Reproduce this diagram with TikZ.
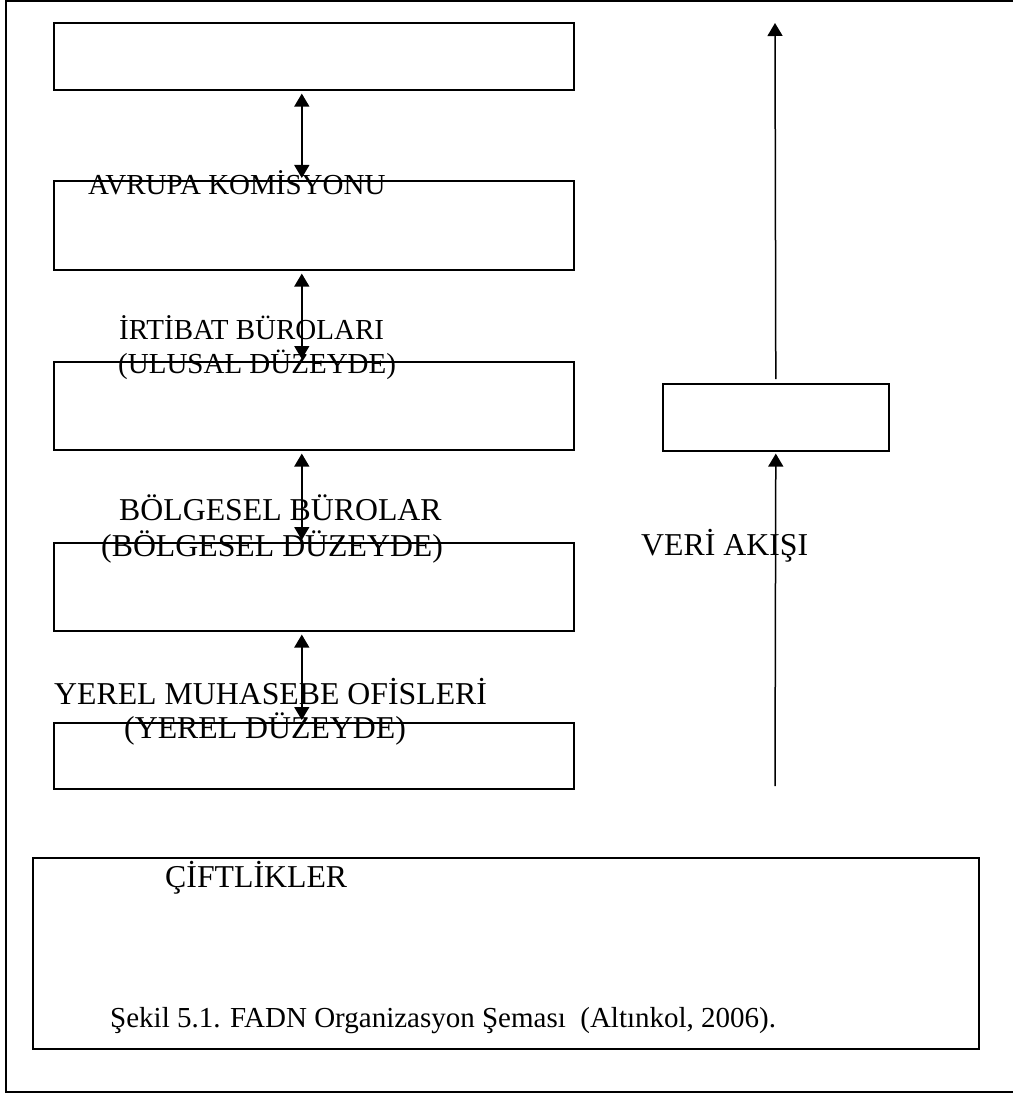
\documentclass[tikz,border=0pt]{standalone}
\usepackage{fontspec}
\setmainfont{Liberation Serif}
\usetikzlibrary{arrows.meta}
\begin{document}
\begin{tikzpicture}[x=1pt,y=-1pt,
  box/.style={draw,line width=1.6pt,inner sep=0pt,anchor=north west},
  lbl/.style={anchor=base west,inner sep=0pt,font=\fontsize{29}{34}\selectfont},
  lblb/.style={anchor=base west,inner sep=0pt,font=\fontsize{31.8}{36}\selectfont},
  flow/.style={line width=1.5pt,-{Triangle[width=15pt,length=13pt]}},
  both/.style={line width=1.5pt,{Triangle[width=15pt,length=13pt]}-{Triangle[width=15pt,length=13pt]}}]
\useasboundingbox (0,0) rectangle (1012,1094);
% outer frame (right side lies beyond the page)
\draw[line width=1.6pt] (1014,1) -- (6,1) -- (6,1092) -- (1014,1092);
% left column boxes
\node[box,minimum width=520pt,minimum height=67pt] (b1) at (53,22) {};
\node[box,minimum width=520pt,minimum height=89pt] (b2) at (53,180) {};
\node[box,minimum width=520pt,minimum height=88pt] (b3) at (53,361) {};
\node[box,minimum width=520pt,minimum height=88pt] (b4) at (53,542) {};
\node[box,minimum width=520pt,minimum height=66pt] (b5) at (53,722) {};
% right box and bottom box
\node[box,minimum width=226pt,minimum height=67pt] (rb) at (662,383) {};
\node[box,minimum width=946pt,minimum height=191pt] (fb) at (32,857) {};
% double arrows
\draw[both] ([xshift=-12pt,yshift=-3pt]b1.south) -- ([xshift=-12pt,yshift=2pt]b2.north);
\draw[both] ([xshift=-12pt,yshift=-3pt]b2.south) -- ([xshift=-12pt,yshift=2pt]b3.north);
\draw[both] ([xshift=-12pt,yshift=-3pt]b3.south) -- ([xshift=-12pt,yshift=2pt]b4.north);
\draw[both] ([xshift=-12pt,yshift=-3pt]b4.south) -- ([xshift=-12pt,yshift=2pt]b5.north);
% data flow arrows
\coordinate (vb) at (775,786);
\coordinate (vt) at (775,23);
\draw[flow] (vb) -- ([yshift=-2pt]rb.south);
\draw[flow] ([yshift=4pt]rb.north) -- (vt);
% labels
\node[lbl] (t1) at (88,194) {AVRUPA KOMİSYONU};
\node[lbl] (t2) at (119,339) {İRTİBAT BÜROLARI};
\node[lbl] (t3) at (118,373) {(ULUSAL DÜZEYDE)};
\node[lblb] (t4) at (119,520) {BÖLGESEL BÜROLAR};
\node[lblb] (t5) at (101,556) {(BÖLGESEL DÜZEYDE)};
\node[lblb] (t6) at (54,704) {YEREL MUHASEBE OFİSLERİ};
\node[lblb] (t7) at (124,738) {(YEREL DÜZEYDE)};
\node[lblb] (t8) at (641,555) {VERİ AKIŞI};
\node[lblb] (t9) at (165,887) {ÇİFTLİKLER};
\node[lbl] (t10) at (110,1027) {Şekil 5.1. FADN Organizasyon Şeması\ \ (Altınkol, 2006).};
\end{tikzpicture}
\end{document}
